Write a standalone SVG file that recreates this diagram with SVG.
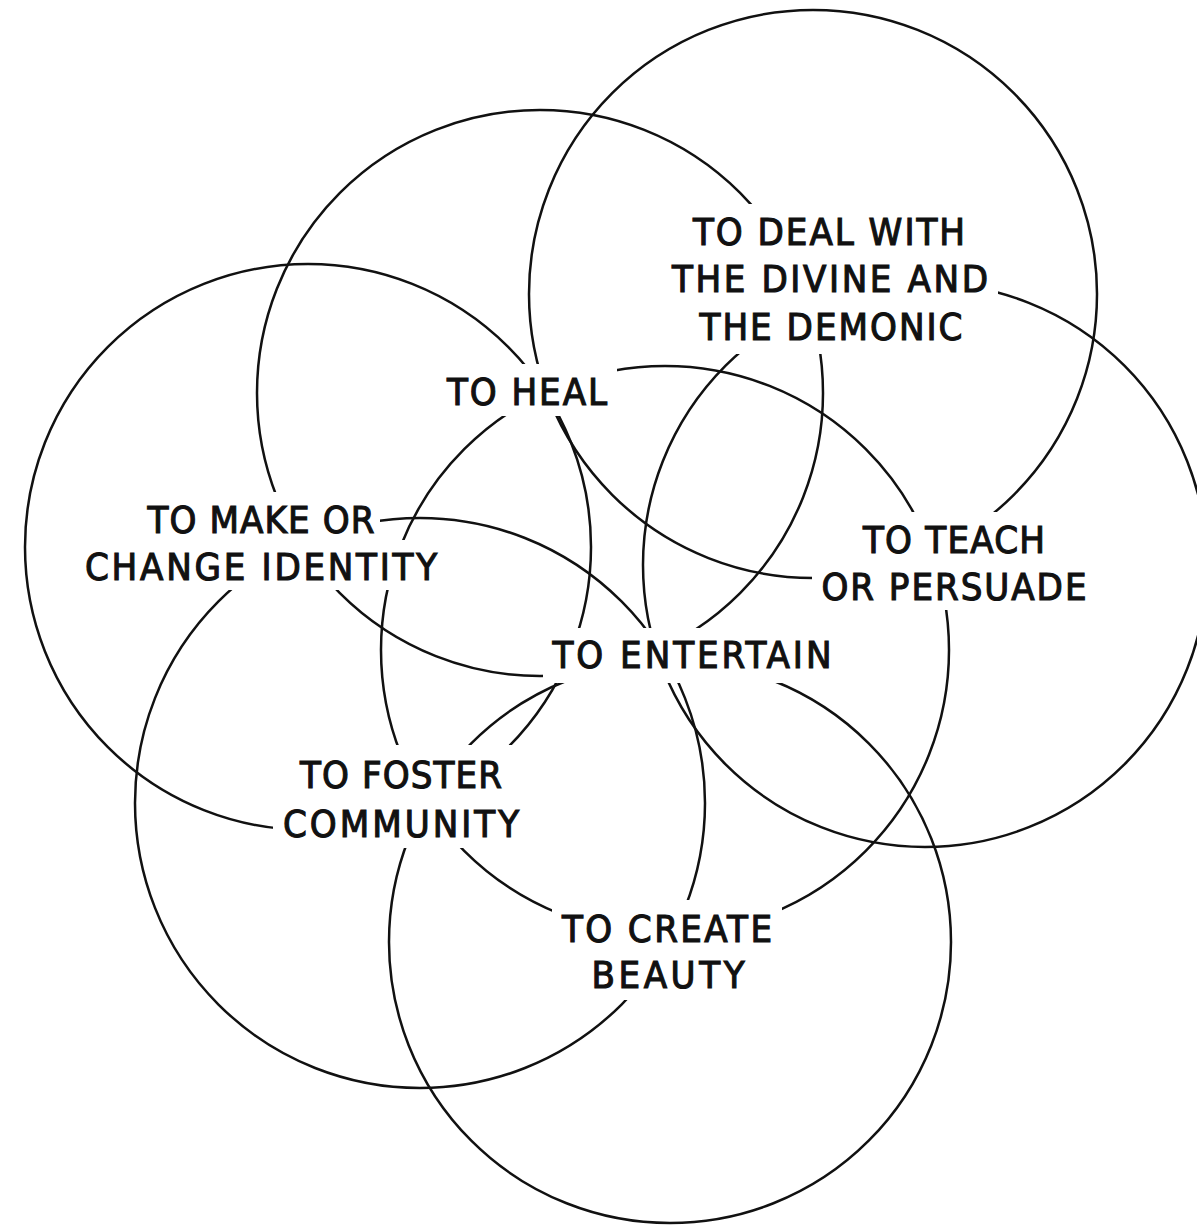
<svg xmlns="http://www.w3.org/2000/svg" width="1197" height="1232" viewBox="0 0 1197 1232">
<style>
.c{fill:none;stroke:#111;stroke-width:2.5}
.bg{fill:#fff}
.t{font-family:"DejaVu Sans Condensed","Liberation Sans",sans-serif;font-size:38px;font-weight:normal;fill:#111;stroke:#111;stroke-width:1.1;text-anchor:middle}
</style>
<rect width="1197" height="1232" fill="#fff"/>
<g id="circles">
<circle class="c" cx="813" cy="294" r="284"/>
<circle class="c" cx="540" cy="393" r="283"/>
<circle class="c" cx="308" cy="547" r="283"/>
<circle class="c" cx="420" cy="803" r="285"/>
<circle class="c" cx="670" cy="942" r="281"/>
<circle class="c" cx="925" cy="565" r="282"/>
<circle class="c" cx="665" cy="650" r="284"/>
</g>
<g id="divine">
<rect class="bg" x="662" y="204" width="336" height="150"/>
<text class="t" x="829" y="245" textLength="272" lengthAdjust="spacing">TO DEAL WITH</text>
<text class="t" x="830" y="292" textLength="316" lengthAdjust="spacing">THE DIVINE AND</text>
<text class="t" x="831" y="340" textLength="263" lengthAdjust="spacing">THE DEMONIC</text>
</g>
<g id="heal">
<rect class="bg" x="437" y="364" width="180" height="52"/>
<text class="t" x="527" y="405" textLength="160" lengthAdjust="spacing">TO HEAL</text>
</g>
<g id="identity">
<rect class="bg" x="138" y="492" width="242" height="50"/>
<rect class="bg" x="75" y="540" width="372" height="50"/>
<text class="t" x="261" y="533" textLength="227" lengthAdjust="spacing">TO MAKE OR</text>
<text class="t" x="261" y="580" textLength="352" lengthAdjust="spacing">CHANGE IDENTITY</text>
</g>
<g id="teach">
<rect class="bg" x="853" y="512" width="202" height="50"/>
<rect class="bg" x="812" y="560" width="285" height="50"/>
<text class="t" x="954" y="553" textLength="182" lengthAdjust="spacing">TO TEACH</text>
<text class="t" x="954" y="600" textLength="265" lengthAdjust="spacing">OR PERSUADE</text>
</g>
<g id="entertain">
<rect class="bg" x="543" y="628" width="299" height="55"/>
<text class="t" x="692" y="668" textLength="279" lengthAdjust="spacing">TO ENTERTAIN</text>
</g>
<g id="foster">
<rect class="bg" x="290" y="745" width="222" height="50"/>
<rect class="bg" x="273" y="793" width="256" height="55"/>
<text class="t" x="401" y="788" textLength="202" lengthAdjust="spacing">TO FOSTER</text>
<text class="t" x="401" y="837" textLength="236" lengthAdjust="spacing">COMMUNITY</text>
</g>
<g id="beauty">
<rect class="bg" x="552" y="900" width="230" height="52"/>
<rect class="bg" x="582" y="950" width="173" height="50"/>
<text class="t" x="667" y="942" textLength="210" lengthAdjust="spacing">TO CREATE</text>
<text class="t" x="668" y="988" textLength="153" lengthAdjust="spacing">BEAUTY</text>
</g>
</svg>
